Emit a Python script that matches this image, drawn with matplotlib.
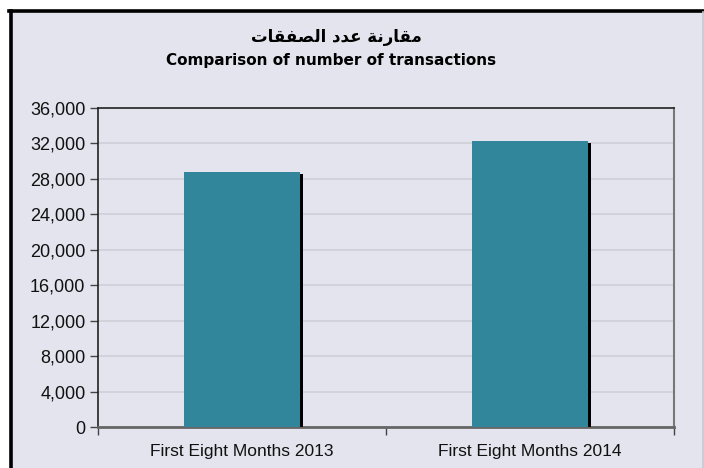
import matplotlib
matplotlib.use("Agg")
import matplotlib.pyplot as plt
from matplotlib.patches import Rectangle
import matplotlib.patheffects as pe
from matplotlib.ticker import FuncFormatter

categories = ["First Eight Months 2013", "First Eight Months 2014"]
values = [28800, 32300]
yticks = [0, 4000, 8000, 12000, 16000, 20000, 24000, 28000, 32000, 36000]
title_ar = "مقارنة عدد الصفقات"
title_en = "Comparison of number of transactions"

# minimal Arabic shaping (isolated, final, initial, medial)
FORMS = {
    "ا": ("\uFE8D", "\uFE8E", None, None),
    "ت": ("\uFE95", "\uFE96", "\uFE97", "\uFE98"),
    "ة": ("\uFE93", "\uFE94", None, None),
    "د": ("\uFEA9", "\uFEAA", None, None),
    "ر": ("\uFEAD", "\uFEAE", None, None),
    "ص": ("\uFEB9", "\uFEBA", "\uFEBB", "\uFEBC"),
    "ع": ("\uFEC9", "\uFECA", "\uFECB", "\uFECC"),
    "ف": ("\uFED1", "\uFED2", "\uFED3", "\uFED4"),
    "ق": ("\uFED5", "\uFED6", "\uFED7", "\uFED8"),
    "ل": ("\uFEDD", "\uFEDE", "\uFEDF", "\uFEE0"),
    "م": ("\uFEE1", "\uFEE2", "\uFEE3", "\uFEE4"),
    "ن": ("\uFEE5", "\uFEE6", "\uFEE7", "\uFEE8"),
}


def shape_ar(text):
    out = []
    chars = list(text)
    for i, c in enumerate(chars):
        if c not in FORMS:
            out.append(c)
            continue
        prev = chars[i - 1] if i > 0 else None
        nxt = chars[i + 1] if i + 1 < len(chars) else None
        join_prev = prev in FORMS and FORMS[prev][2] is not None
        join_next = nxt in FORMS and FORMS[c][2] is not None
        iso, fin, ini, med = FORMS[c]
        if join_prev and join_next:
            out.append(med)
        elif join_prev:
            out.append(fin)
        elif join_next:
            out.append(ini)
        else:
            out.append(iso)
    return "".join(reversed(out))


bg = "#E4E4EE"
bar_color = "#31869B"

fig = plt.figure(figsize=(7.04, 4.68), dpi=100)
fig.patch.set_facecolor("white")

W, H = 704, 468
bgrect = Rectangle((11 / W, 0), 1 - 11 / W, 1 - 11 / H, transform=fig.transFigure,
                   facecolor=bg, edgecolor="none", zorder=-10)
fig.add_artist(bgrect)
fig.add_artist(plt.Line2D([10.5 / W, 10.5 / W], [0, 1 - 10.5 / H], color="black", lw=2.6,
                          transform=fig.transFigure, zorder=-5))
fig.add_artist(plt.Line2D([9.2 / W, 1], [1 - 10.5 / H, 1 - 10.5 / H], color="black", lw=2.6,
                          transform=fig.transFigure, zorder=-5))
fig.add_artist(plt.Line2D([702.5 / W, 702.5 / W], [0, 1 - 12 / H], color="#C8C8D0", lw=1.2,
                          transform=fig.transFigure, zorder=-5))

left, right, top, bottom = 98, 674, 108, 427
ax = fig.add_axes([left / W, 1 - bottom / H, (right - left) / W, (bottom - top) / H])
ax.set_zorder(5)
ax.set_facecolor(bg)

x = list(range(len(categories)))
bars = ax.bar(x, values, width=0.4, color=bar_color, edgecolor="none", zorder=3)
for b in bars:
    b.set_path_effects([pe.SimplePatchShadow(offset=(2.5, -1.5), shadow_rgbFace="black", alpha=1.0),
                        pe.Normal()])

ax.set_xlim(-0.5, 1.5)
ax.set_ylim(0, 36000)
ax.set_yticks(yticks)
ax.yaxis.set_major_formatter(FuncFormatter(lambda v, p: f"{int(v):,}"))
ax.yaxis.grid(True, color="#CFCFD6", lw=1.2, zorder=0)
ax.set_axisbelow(True)

ax.set_xticks([-0.5, 0.5, 1.5], minor=False)
ax.set_xticklabels(["", "", ""])
ax.set_xticks(x, minor=True)
ax.set_xticklabels(categories, minor=True)
ax.tick_params(axis="x", which="minor", length=0, pad=12, labelsize=12.5)
ax.tick_params(axis="x", which="major", length=6, direction="out", color="#444444", width=1)
ax.tick_params(axis="y", length=6, direction="out", color="#444444", width=1, labelsize=13, pad=3)

for lab in ax.get_xticklabels(minor=True) + ax.get_yticklabels():
    lab.set_fontfamily("Liberation Sans")
    lab.set_color("#111111")

ax.spines["left"].set_color("#222222")
ax.spines["left"].set_linewidth(1.2)
ax.spines["top"].set_color("#222222")
ax.spines["top"].set_linewidth(1.2)
ax.spines["right"].set_color("#777777")
ax.spines["right"].set_linewidth(1.5)
ax.spines["bottom"].set_color("#666666")
ax.spines["bottom"].set_linewidth(2)

fig.text(336 / W, 1 - 37 / H, shape_ar(title_ar), ha="center", va="center", fontsize=12,
         fontweight="bold", family=["DejaVu Sans"])
fig.text(331 / W, 1 - 61 / H, title_en, ha="center", va="center", fontsize=11,
         fontweight="bold", family=["DejaVu Sans"])

fig.savefig("out.png", dpi=100, facecolor=fig.get_facecolor())
